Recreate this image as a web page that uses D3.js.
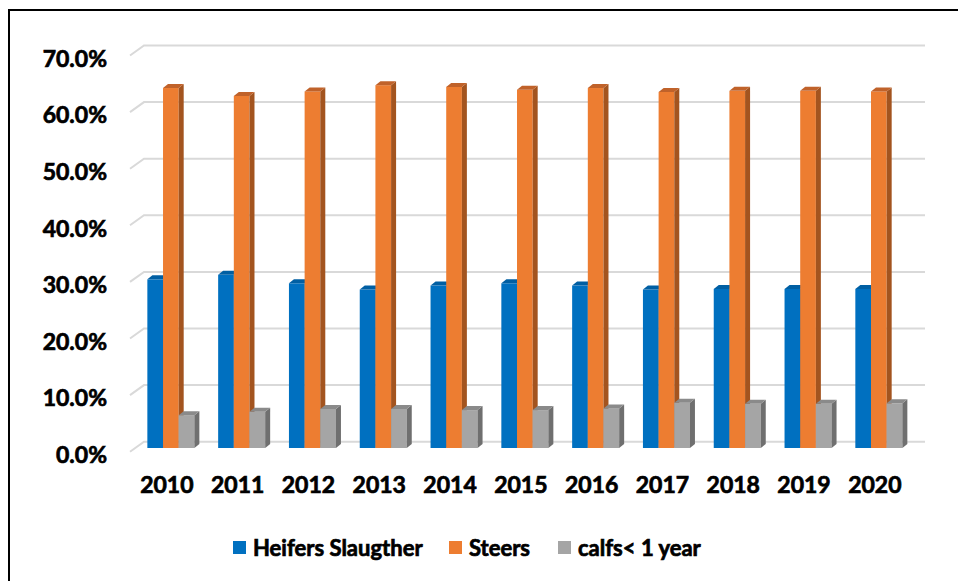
<!DOCTYPE html>
<html>
<head>
<meta charset="utf-8">
<script src="https://cdn.jsdelivr.net/npm/d3@7"></script>
<style>
  body { margin: 0; background: #fff; }
  svg text { font-family: Lato, "Open Sans", sans-serif; font-weight: bold; fill: #000; stroke: #000; stroke-width: 0.7px; }
</style>
</head>
<body>
<div class="chart"></div>
<script>
var width = 958,
    height = 581;

// values (percent)
var years = ["2010", "2011", "2012", "2013", "2014", "2015", "2016", "2017", "2018", "2019", "2020"];
var heifers = [29.8, 30.6, 29.1, 28.0, 28.7, 29.1, 28.7, 28.0, 28.1, 28.1, 28.1];
var steers  = [63.6, 62.2, 63.0, 64.1, 63.8, 63.3, 63.6, 62.9, 63.1, 63.1, 63.0];
var calfs   = [5.8, 6.4, 6.9, 6.9, 6.7, 6.7, 7.0, 8.0, 7.8, 7.8, 7.9];
var seriesNames = ["Heifers Slaugther", "Steers", "calfs< 1 year"];
var yTicks = [0, 10, 20, 30, 40, 50, 60, 70];

var colors = {
  "Heifers Slaugther": { front: "#0070C0", side: "#00508a", top: "#005fa3" },
  "Steers":            { front: "#ED7D31", side: "#a3541f", top: "#c0622a" },
  "calfs< 1 year":     { front: "#A5A5A5", side: "#6f6f6f", top: "#8a8a8a" }
};

var series = [heifers, steers, calfs];

var depthX = 5, depthY = 4;   // bar 3d depth
var wallX = 14, wallY = 10;   // floor offset to back wall

var svg = d3.select(".chart").append("svg")
    .attr("width", width)
    .attr("height", height);

// frame (runs off the right / bottom of the picture)
svg.append("rect")
    .attr("x", 9).attr("y", 10)
    .attr("width", 1000).attr("height", 1000)
    .attr("fill", "none")
    .attr("stroke", "#000")
    .attr("stroke-width", 2);

var y = d3.scaleLinear()
    .domain([0, 70])
    .range([448, 448 - 7 * 56.6]);

var x = d3.scaleBand()
    .domain(years)
    .range([135.6, 914.1])
    .paddingInner(0.336)
    .paddingOuter(0.166);

var xs = d3.scaleBand()
    .domain(seriesNames)
    .range([0, x.bandwidth()]);

// gridlines on back wall with a little floor diagonal
var grid = svg.append("g");
yTicks.forEach(function(t) {
  var gy = y(t) - 6.3;
  grid.append("path")
      .attr("d", "M130," + (gy + wallY) + "L144," + gy + "L925," + gy)
      .attr("fill", "none")
      .attr("stroke", "#d9d9d9")
      .attr("stroke-width", 2);
});

// y labels
svg.append("g").selectAll("text")
  .data(yTicks)
  .join("text")
    .attr("x", 107)
    .attr("y", function(d) { return y(d) + 15; })
    .attr("text-anchor", "end")
    .style("font-size", "23px")
    .text(function(d) { return d3.format(".1f")(d) + "%"; });

// bars
var bars = svg.append("g");
years.forEach(function(yr, i) {
  seriesNames.forEach(function(s, j) {
    var v = series[j][i];
    var x0 = x(yr) + xs(s),
        w = xs.bandwidth(),
        top = y(v),
        base = y(0),
        c = colors[s];
    bars.append("rect")
        .attr("x", x0).attr("y", top)
        .attr("width", w).attr("height", base - top)
        .attr("fill", c.front);
    bars.append("path")
        .attr("d", "M" + (x0 + w) + "," + top + "L" + (x0 + w + depthX) + "," + (top - depthY) +
                   "L" + (x0 + w + depthX) + "," + (base - depthY) + "L" + (x0 + w) + "," + base + "Z")
        .attr("fill", c.side);
    bars.append("path")
        .attr("d", "M" + x0 + "," + top + "L" + (x0 + depthX) + "," + (top - depthY) +
                   "L" + (x0 + w + depthX) + "," + (top - depthY) + "L" + (x0 + w) + "," + top + "Z")
        .attr("fill", c.top);
  });
});

// x labels
svg.append("g").selectAll("text")
  .data(years)
  .join("text")
    .attr("x", function(d) { return x(d) + x.bandwidth() / 2 - 4; })
    .attr("y", 493)
    .attr("text-anchor", "middle")
    .style("font-size", "23px")
    .text(function(d) { return d; });

// legend
var legendX = [233, 449, 558];
var legend = svg.append("g");
seriesNames.forEach(function(s, j) {
  legend.append("rect")
      .attr("x", legendX[j]).attr("y", 541)
      .attr("width", 13).attr("height", 13)
      .attr("fill", colors[s].front);
  legend.append("text")
      .attr("x", legendX[j] + 20)
      .attr("y", 556)
      .style("font-size", "22px")
      .text(s);
});
</script>
</body>
</html>
